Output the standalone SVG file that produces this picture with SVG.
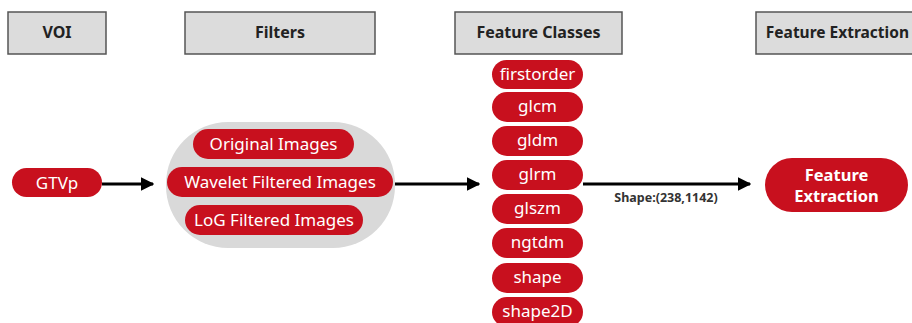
<svg xmlns="http://www.w3.org/2000/svg" width="912" height="323" viewBox="0 0 912 323">
<style>
.hdr{fill:#dcdcdc;stroke:#555;stroke-width:1.5}
.ht{font-family:"Noto Sans",sans-serif;font-weight:bold;font-size:16px;fill:#222;text-anchor:middle}
.pill{fill:#c8101e}
.pt{font-family:"Noto Sans",sans-serif;font-size:17px;fill:#fff;text-anchor:middle}
.ptb{font-family:"Noto Sans",sans-serif;font-weight:bold;font-size:16.5px;fill:#fff;text-anchor:middle}
.conn{stroke:#000;stroke-width:3;fill:none}
.lbl{font-family:"Noto Sans",sans-serif;font-weight:bold;font-size:12.5px;fill:#333;text-anchor:middle}
</style>
<defs>
<marker id="ah" viewBox="0 0 10 10" refX="9" refY="5" markerWidth="4.5" markerHeight="4.5" orient="auto" markerUnits="strokeWidth">
<path d="M0,0 L10,5 L0,10 Z" fill="#000"/>
</marker>
</defs>
<g id="hdr-voi"><rect class="hdr" x="8" y="12" width="98" height="42"/><text class="ht" x="57" y="38">VOI</text></g>
<g id="hdr-filters"><rect class="hdr" x="185" y="12" width="190" height="42"/><text class="ht" x="280" y="38">Filters</text></g>
<g id="hdr-classes"><rect class="hdr" x="455" y="12" width="167" height="42"/><text class="ht" x="538.5" y="38">Feature Classes</text></g>
<g id="hdr-extraction"><rect class="hdr" x="756" y="12" width="170" height="42"/><text class="ht" x="909" y="38" style="text-anchor:end;font-size:15.5px">Feature Extraction</text></g>
<g id="gtvp"><rect class="pill" x="12" y="168" width="90" height="29" rx="14.5"/><text class="pt" x="57" y="188.5">GTVp</text></g>
<g id="filters">
<rect x="166" y="122" width="229" height="126" rx="62" fill="#d9d9d9"/>
<g id="original"><rect class="pill" x="193" y="129" width="161" height="30" rx="15"/><text class="pt" x="273.5" y="150">Original Images</text></g>
<g id="wavelet"><rect class="pill" x="167" y="167" width="226" height="30" rx="15"/><text class="pt" x="280" y="188">Wavelet Filtered Images</text></g>
<g id="log"><rect class="pill" x="185" y="205" width="178" height="30" rx="15"/><text class="pt" x="274" y="226">LoG Filtered Images</text></g>
</g>
<g id="classes">
<g id="firstorder"><rect class="pill" x="492" y="60" width="91" height="29" rx="14.5"/><text class="pt" x="537.5" y="80">firstorder</text></g>
<g id="glcm"><rect class="pill" x="492" y="92" width="91" height="30" rx="15"/><text class="pt" x="537.5" y="112">glcm</text></g>
<g id="gldm"><rect class="pill" x="492" y="126" width="91" height="30" rx="15"/><text class="pt" x="537.5" y="146">gldm</text></g>
<g id="glrm"><rect class="pill" x="492" y="160" width="91" height="30" rx="15"/><text class="pt" x="537.5" y="180">glrm</text></g>
<g id="glszm"><rect class="pill" x="492" y="194" width="91" height="30" rx="15"/><text class="pt" x="537.5" y="214">glszm</text></g>
<g id="ngtdm"><rect class="pill" x="492" y="228" width="91" height="30" rx="15"/><text class="pt" x="537.5" y="248">ngtdm</text></g>
<g id="shape"><rect class="pill" x="492" y="263" width="91" height="30" rx="15"/><text class="pt" x="537.5" y="283">shape</text></g>
<g id="shape2d"><rect class="pill" x="492" y="297" width="91" height="30" rx="15"/><text class="pt" x="537.5" y="317">shape2D</text></g>
</g>
<g id="extraction"><rect class="pill" x="765" y="158" width="143" height="54" rx="27"/><text class="ptb" x="836.5" y="181">Feature</text><text class="ptb" x="836.5" y="202">Extraction</text></g>
<g id="connectors">
<line class="conn" x1="102" y1="184" x2="153" y2="184" marker-end="url(#ah)"/>
<line class="conn" x1="395" y1="184" x2="479" y2="184" marker-end="url(#ah)"/>
<line class="conn" x1="583" y1="184" x2="750" y2="184" marker-end="url(#ah)"/>
<text class="lbl" x="666" y="202">Shape:(238,1142)</text>
</g>
</svg>
